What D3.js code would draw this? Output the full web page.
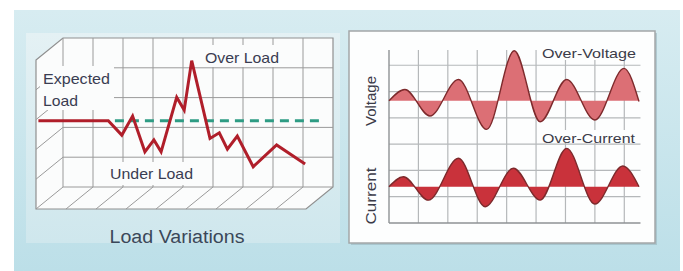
<!DOCTYPE html>
<html><head><meta charset="utf-8">
<script src="https://cdn.jsdelivr.net/npm/d3@7"></script>
<style>
html,body{margin:0;padding:0;background:#fff;}
svg{display:block;font-family:"Liberation Sans",Arial,Helvetica,sans-serif;}
</style></head><body>
<svg id="chart" width="683" height="271"></svg>
<script>
// ---------- Left chart: Load Variations ----------
const loadTime  = [0.18, 2.51, 2.96, 3.32, 3.73, 4.03, 4.27, 4.79, 5.04, 5.29, 5.90, 6.21, 6.48, 6.81, 7.34, 8.12, 9.07];
const loadValue = [2.22, 2.22, 1.74, 2.38, 1.18, 1.58, 1.18, 3.01, 2.58, 4.24, 1.63, 1.82, 1.27, 1.71, 0.68, 1.41, 0.77];
const expectedLoad = 2.22;
const expectedSpan = [2.73, 9.67];
const loadGridT = [1, 2, 3, 4, 5, 6, 7, 8, 9, 10];
const loadGridV = [0, 1, 2, 3, 4, 5];
const loadLabels = ["Expected", "Load", "Over Load", "Under Load"];
const leftTitle = "Load Variations";

// ---------- Right chart: Voltage / Current ----------
const voltageX     = [0, 0.54, 1.39, 2.36, 3.32, 4.26, 5.14, 6.04, 7.00, 7.99, 8.5];
const voltageValue = [0, 0.43, -0.58, 0.81, -1.09, 1.90, -0.80, 0.81, -0.73, 1.23, -0.03];
const currentX     = [0, 0.49, 1.34, 2.36, 3.27, 4.23, 5.14, 6.04, 7.00, 7.95, 8.5];
const currentValue = [0, 0.38, -0.51, 1.08, -0.76, 0.70, -0.51, 1.46, -0.66, 0.79, 0];
const voltageBase = 4.65;
const currentBase = 1.38;
const waveGridX = [1, 2, 3, 4, 5, 6, 7, 8];
const waveGridY = [1, 2, 3, 4, 5, 6];
const waveLabels = ["Over-Voltage", "Over-Current"];
const axisLabels = ["Voltage", "Current"];

const svg = d3.select("#chart");
const defs = svg.append("defs");
const bg = defs.append("linearGradient").attr("id","bg").attr("x1",0).attr("y1",0).attr("x2",0).attr("y2",1);
bg.append("stop").attr("offset","0%").attr("stop-color","#d7ecf1");
bg.append("stop").attr("offset","100%").attr("stop-color","#bcdfe8");
const bg2 = defs.append("linearGradient").attr("id","bg2").attr("x1",0).attr("y1",0).attr("x2",0).attr("y2",1);
bg2.append("stop").attr("offset","0%").attr("stop-color","#e4f1f4");
bg2.append("stop").attr("offset","100%").attr("stop-color","#cfe7ed");

svg.append("rect").attr("x",14).attr("y",10).attr("width",666).attr("height",261).attr("fill","url(#bg)");
svg.append("rect").attr("x",26).attr("y",33).attr("width",314).attr("height",210).attr("fill","url(#bg2)");

// ---- left 3D box ----
const xL = d3.scaleLinear().domain([0, 10]).range([33, 333]);
const yL = d3.scaleLinear().domain([0, 5]).range([187, 38]);
const dx = -27, dy = 22;
const gL = svg.append("g");
const tMin = d3.min(loadGridT), tMax = d3.max(loadGridT);
const vMin = d3.min(loadGridV), vMax = d3.max(loadGridV);
const outline = [
  [xL(tMin)+dx, yL(vMax)+dy], [xL(tMin), yL(vMax)], [xL(tMax), yL(vMax)],
  [xL(tMax), yL(vMin)], [xL(tMax)+dx, yL(vMin)+dy], [xL(tMin)+dx, yL(vMin)+dy]
];
gL.append("polygon").attr("points", outline.map(p=>p.join(",")).join(" "))
  .attr("fill","#fbfcfc").attr("stroke","#8f8f8f").attr("stroke-width",1.2);
const gridCol = "#9a9a9a";
// back wall verticals
gL.selectAll(".vl").data(loadGridT.slice(0,-1)).join("line")
  .attr("x1",d=>xL(d)).attr("x2",d=>xL(d)).attr("y1",yL(vMax)).attr("y2",yL(vMin))
  .attr("stroke",gridCol).attr("stroke-width",1);
// back wall horizontals
gL.selectAll(".hl").data(loadGridV.slice(0,-1)).join("line")
  .attr("x1",xL(tMin)).attr("x2",xL(tMax)).attr("y1",d=>yL(d)).attr("y2",d=>yL(d))
  .attr("stroke",gridCol).attr("stroke-width",1);
// left wall diagonals
gL.selectAll(".lw").data(loadGridV.slice(0,-1)).join("line")
  .attr("x1",xL(tMin)).attr("y1",d=>yL(d)).attr("x2",xL(tMin)+dx).attr("y2",d=>yL(d)+dy)
  .attr("stroke",gridCol).attr("stroke-width",1);
// floor diagonals
gL.selectAll(".fl").data(loadGridT.slice(1,-1)).join("line")
  .attr("x1",d=>xL(d)).attr("y1",yL(vMin)).attr("x2",d=>xL(d)+dx).attr("y2",yL(vMin)+dy)
  .attr("stroke",gridCol).attr("stroke-width",1);

// label backgrounds
const txtCol = "#3a3d52";
function boxLabel(g, text, x, y, size, len, pad) {
  const t = g.append("text").attr("x",x).attr("y",y).attr("font-size",size)
    .attr("fill",txtCol).attr("textLength",len).attr("lengthAdjust","spacingAndGlyphs").text(text);
  return t;
}
gL.append("rect").attr("x",40).attr("y",66).attr("width",74).attr("height",44).attr("fill","#fbfcfc");
gL.append("rect").attr("x",106).attr("y",162).attr("width",92).attr("height",23).attr("fill","#fbfcfc");
gL.append("rect").attr("x",201).attr("y",45).attr("width",82).attr("height",22).attr("fill","#fbfcfc");
boxLabel(gL, loadLabels[0], 43, 84, 14.5, 67);
boxLabel(gL, loadLabels[1], 43, 106, 14.5, 35);
boxLabel(gL, loadLabels[2], 205, 63, 14.5, 74);
boxLabel(gL, loadLabels[3], 110, 179, 14.5, 83);

// expected dashed line
gL.append("line").attr("x1",xL(expectedSpan[0])).attr("x2",xL(expectedSpan[1]))
  .attr("y1",yL(expectedLoad)).attr("y2",yL(expectedLoad))
  .attr("stroke","#2e9c84").attr("stroke-width",3).attr("stroke-dasharray","9,6");
// load line
const loadLine = d3.line().x((d,i)=>xL(loadTime[i])).y(d=>yL(d));
gL.append("path").attr("d", loadLine(loadValue)).attr("fill","none")
  .attr("stroke","#b01e2a").attr("stroke-width",3).attr("stroke-linejoin","miter");

svg.append("text").attr("x",177).attr("y",243).attr("text-anchor","middle")
  .attr("font-size",18).attr("fill","#3a4759").attr("textLength",135)
  .attr("lengthAdjust","spacingAndGlyphs").text(leftTitle);

// ---- right panel ----
svg.append("rect").attr("x",351).attr("y",33).attr("width",306).attr("height",212).attr("fill","#9ab4bc").attr("opacity",0.6);
svg.append("rect").attr("x",349).attr("y",31).attr("width",306).attr("height",212)
  .attr("fill","#fdfefe").attr("stroke","#a3a7a8").attr("stroke-width",1.5);

const xW = d3.scaleLinear().domain([0, 8.5]).range([389, 639]);
const yW = d3.scaleLinear().domain([0, 6.58]).range([223, 50]);
const gR = svg.append("g");
gR.selectAll(".wv").data(waveGridX).join("line")
  .attr("x1",d=>xW(d)).attr("x2",d=>xW(d)).attr("y1",yW(6.58)).attr("y2",yW(0))
  .attr("stroke","#b5b8ba").attr("stroke-width",1.2);
gR.selectAll(".wh").data(waveGridY).join("line")
  .attr("x1",xW(0)).attr("x2",xW(8.55)).attr("y1",d=>yW(d)).attr("y2",d=>yW(d))
  .attr("stroke","#b5b8ba").attr("stroke-width",1.2);
gR.append("line").attr("x1",xW(0)).attr("x2",xW(0)).attr("y1",yW(6.58)).attr("y2",yW(0)).attr("stroke","#8e9294").attr("stroke-width",1.4);
gR.append("line").attr("x1",xW(0)).attr("x2",xW(8.55)).attr("y1",yW(0)).attr("y2",yW(0)).attr("stroke","#8e9294").attr("stroke-width",1.4);

function wave(xs, vs, base, fill) {
  const area = d3.area().curve(d3.curveMonotoneX)
    .x((d,i)=>xW(xs[i])).y0(yW(base)).y1(d=>yW(base+d));
  const line = d3.line().curve(d3.curveMonotoneX)
    .x((d,i)=>xW(xs[i])).y(d=>yW(base+d));
  gR.append("path").attr("d",area(vs)).attr("fill",fill);
  gR.append("path").attr("d",line(vs)).attr("fill","none").attr("stroke","#7d2a2c").attr("stroke-width",1.4);
}
wave(voltageX, voltageValue, voltageBase, "#dc6f75");
wave(currentX, currentValue, currentBase, "#c9323b");

// labels
gR.append("rect").attr("x",539).attr("y",45).attr("width",98).attr("height",15).attr("fill","#fdfefe");
gR.append("rect").attr("x",539).attr("y",130).attr("width",98).attr("height",13).attr("fill","#fdfefe");
gR.append("text").attr("x",542).attr("y",58).attr("font-size",13.5).attr("fill","#3b3b48")
  .attr("textLength",94).attr("lengthAdjust","spacingAndGlyphs").text(waveLabels[0]);
gR.append("text").attr("x",542).attr("y",143).attr("font-size",13.5).attr("fill","#3b3b48")
  .attr("textLength",93).attr("lengthAdjust","spacingAndGlyphs").text(waveLabels[1]);
gR.append("text").attr("transform","translate(376,101) rotate(-90)").attr("text-anchor","middle")
  .attr("font-size",14).attr("fill","#3b3b48").attr("textLength",50).attr("lengthAdjust","spacingAndGlyphs").text(axisLabels[0]);
gR.append("text").attr("transform","translate(376,196) rotate(-90)").attr("text-anchor","middle")
  .attr("font-size",14).attr("fill","#3b3b48").attr("textLength",57).attr("lengthAdjust","spacingAndGlyphs").text(axisLabels[1]);
</script>
</body></html>
